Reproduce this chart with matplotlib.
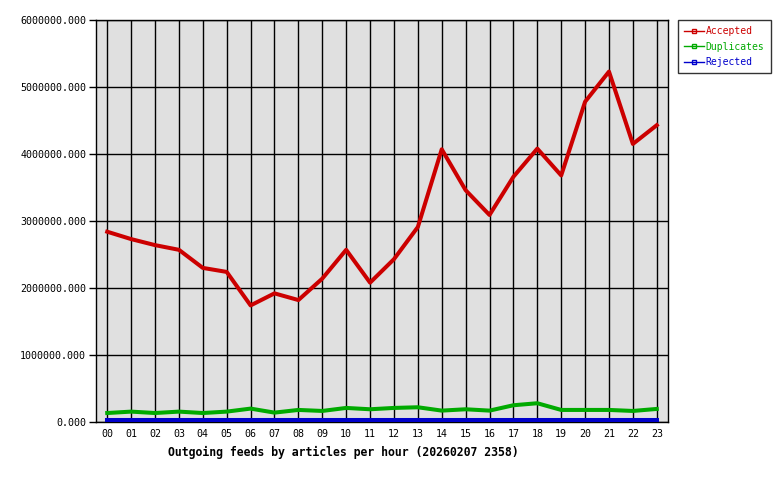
import matplotlib
matplotlib.use("Agg")
import matplotlib.pyplot as plt
from matplotlib.lines import Line2D

hours = ["00","01","02","03","04","05","06","07","08","09","10","11",
         "12","13","14","15","16","17","18","19","20","21","22","23"]
accepted = [2840000, 2730000, 2640000, 2570000, 2300000, 2240000, 1740000, 1920000,
            1820000, 2140000, 2570000, 2080000, 2430000, 2910000, 4070000, 3460000,
            3090000, 3660000, 4080000, 3680000, 4780000, 5230000, 4150000, 4430000]
duplicates = [134000, 155000, 134000, 155000, 134000, 155000, 200000, 140000,
              180000, 165000, 210000, 190000, 210000, 220000, 170000, 190000,
              170000, 250000, 280000, 180000, 180000, 180000, 165000, 195000]
rejected = [25000]*24
yticks = [0, 1000000, 2000000, 3000000, 4000000, 5000000, 6000000]
title = "Outgoing feeds by articles per hour (20260207 2358)"

RED = "#cc0000"; GREEN = "#00aa00"; BLUE = "#0000cc"
font = "DejaVu Sans Mono"

fig = plt.figure(figsize=(7.8, 4.8), dpi=100)
ax = fig.add_axes([96/780, 58/480, 572/780, 402/480])
ax.set_facecolor("#e0e0e0")
x = list(range(len(hours)))
ax.plot(x, accepted, color=RED, lw=2.9, zorder=3)
ax.plot(x, duplicates, color=GREEN, lw=2.9, zorder=3)
ax.plot(x, rejected, color=BLUE, lw=2.9, zorder=3)

ax.set_xlim(-0.47, 23.47)
ax.set_ylim(0, 6000000)
ax.set_xticks(x)
ax.set_xticklabels(hours, fontfamily=font, fontsize=7.2)
ax.set_yticks(yticks)
ax.set_yticklabels([f"{v:.3f}" for v in yticks], fontfamily=font, fontsize=7.2)
ax.tick_params(axis="y", length=5, width=1, color="black", pad=2)
ax.tick_params(axis="x", length=0, pad=5)
ax.grid(True, color="black", lw=1, zorder=1)
ax.set_axisbelow(True)
for s in ax.spines.values():
    s.set_color("black"); s.set_linewidth(1)

fig.text(343/780, 1-452/480, title, ha="center", va="center",
         fontfamily=font, fontsize=8.3, fontweight="bold")

handles = [Line2D([0], [0], color=c, lw=1, marker="s", markersize=2.5,
                  markerfacecolor="none", markeredgecolor=c)
           for c in (RED, GREEN, BLUE)]
leg = fig.legend(handles, ["Accepted", "Duplicates", "Rejected"],
                 loc="upper left", bbox_to_anchor=(678/780, 1-20/480),
                 prop={"family": font, "size": 7}, frameon=True, fancybox=False,
                 handlelength=2.0, handletextpad=0.2, labelspacing=0.55,
                 borderpad=0.65, borderaxespad=0)
leg.get_frame().set_edgecolor("black")
leg.get_frame().set_linewidth(1)
for t, c in zip(leg.get_texts(), (RED, GREEN, BLUE)):
    t.set_color(c)

fig.savefig("out.png", dpi=100)
